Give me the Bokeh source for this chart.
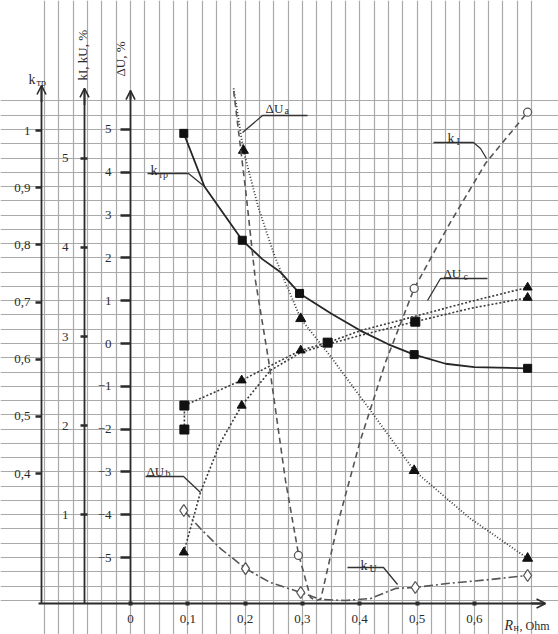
from bokeh.plotting import figure
from bokeh.models import (Range1d, LinearAxis, FixedTicker, SingleIntervalTicker, Grid,
                          Arrow, OpenHead, Label, ColumnDataSource, CustomJSTickFormatter)
from bokeh.embed import file_html
from bokeh.resources import INLINE

FONT = "Liberation Serif"
INK = "#2b2b2b"
CURVE = "#3a3a3a"

# ---------------- data: load resistance R_н, Ohm ----------------
# transformer coefficient k_тр (left-most scale)
ktp_r = [0.093, 0.129, 0.195, 0.23, 0.262, 0.295, 0.35, 0.401, 0.45, 0.495, 0.55, 0.60, 0.693]
ktp_v = [0.995, 0.902, 0.808, 0.775, 0.752, 0.715, 0.680, 0.650, 0.626, 0.608, 0.592, 0.586, 0.584]
ktp_pts_r = [0.093, 0.195, 0.295, 0.495, 0.693]
ktp_pts_v = [0.995, 0.808, 0.715, 0.608, 0.584]

# voltage deviation ΔUa, %
dua_r = [0.180, 0.197, 0.223, 0.250, 0.265, 0.297, 0.349, 0.419, 0.495, 0.593, 0.693]
dua_v = [5.96, 4.51, 3.18, 2.10, 1.59, 0.58, -0.30, -1.57, -2.97, -4.09, -5.02]
dua_pts_r = [0.197, 0.297, 0.495, 0.693]
dua_pts_v = [4.51, 0.58, -2.97, -5.02]

# voltage deviation ΔUb, %
dub_r = [0.093, 0.122, 0.157, 0.194, 0.244, 0.297, 0.344, 0.401, 0.497, 0.593, 0.693]
dub_v = [-4.88, -3.48, -2.31, -1.45, -0.63, -0.21, -0.02, 0.19, 0.51, 0.82, 1.07]
dub_pts_r = [0.093, 0.194, 0.497, 0.693]
dub_pts_v = [-4.88, -1.45, 0.51, 1.07]
dub_pts_m = ["triangle", "triangle", "square", "triangle"]

# voltage deviation ΔUc, %
duc_r = [0.094, 0.094, 0.194, 0.297, 0.344, 0.401, 0.495, 0.593, 0.693]
duc_v = [-2.01, -1.45, -0.86, -0.16, 0.02, 0.30, 0.63, 0.98, 1.31]
duc_pts_r = [0.094, 0.094, 0.194, 0.297, 0.344, 0.693]
duc_pts_v = [-2.01, -1.45, -0.86, -0.16, 0.02, 1.31]
duc_pts_m = ["square", "square", "triangle", "triangle", "square", "triangle"]

# current unbalance factor k_I, %
ki_r = [0.180, 0.201, 0.218, 0.241, 0.2705, 0.293, 0.314, 0.323, 0.332, 0.363, 0.401, 0.445, 0.495, 0.558, 0.62, 0.693]
ki_v = [5.76, 4.64, 3.63, 2.73, 1.38, 0.56, 0.07, 0.03, 0.05, 0.93, 1.83, 2.71, 3.54, 4.28, 4.95, 5.52]
ki_pts_r = [0.293, 0.495, 0.693]
ki_pts_v = [0.54, 3.54, 5.52]

# voltage unbalance factor k_U, %
ku_r = [0.093, 0.122, 0.157, 0.2007, 0.244, 0.297, 0.332, 0.375, 0.419, 0.4625, 0.497, 0.553, 0.628, 0.693]
ku_v = [1.045, 0.843, 0.618, 0.393, 0.236, 0.124, 0.045, 0.034, 0.056, 0.17, 0.180, 0.225, 0.270, 0.315]
ku_pts_r = [0.093, 0.2007, 0.297, 0.497, 0.693]
ku_pts_v = [1.045, 0.393, 0.124, 0.180, 0.315]

x_ticks = [0, 0.1, 0.2, 0.3, 0.4, 0.5, 0.6]
du_ticks = [-5, -4, -3, -2, -1, 0, 1, 2, 3, 4, 5]
k_ticks = [1, 2, 3, 4, 5]
ktp_ticks = [0.4, 0.5, 0.6, 0.7, 0.8, 0.9, 1.0]

# ---------------- figure: graph-paper frame filling the page ----------------
p = figure(width=558, height=634,
           x_range=Range1d(-0.2269, 0.7469), y_range=Range1d(-6.799, 8.014),
           x_axis_location=None, y_axis_location=None,
           toolbar_location=None, output_backend="svg", min_border=0,
           outline_line_color=None, background_fill_color="white",
           border_fill_color="white")
p.extra_y_ranges = {"k": Range1d(-0.348, 6.775), "ktp": Range1d(0.1184, 1.2274)}

GRID = "#a9a9a9"
p.add_layout(Grid(dimension=0, ticker=SingleIntervalTicker(interval=0.025),
                  grid_line_color=GRID, grid_line_width=1.2))
p.add_layout(Grid(dimension=1, ticker=SingleIntervalTicker(interval=1 / 3),
                  grid_line_color=GRID, grid_line_width=1.2))

comma_fmt = CustomJSTickFormatter(code="""
    if (Math.abs(tick) < 1e-9) return "0";
    if (Math.abs(tick - 1) < 1e-9) return "1";
    return tick.toFixed(1).replace(".", ",");
""")

BASE_DU = -6.075   # baseline of the abscissa on the ΔU scale


def style_axis(ax, size="13px"):
    ax.axis_line_color = INK
    ax.axis_line_width = 1.8
    ax.major_tick_line_color = INK
    ax.minor_tick_line_color = None
    ax.major_label_text_font = FONT
    ax.major_label_text_font_size = size
    ax.major_label_text_color = INK


# abscissa R_н
ax_x = LinearAxis(fixed_location=BASE_DU, bounds=(-0.161, 0.72),
                  ticker=FixedTicker(ticks=x_ticks), formatter=comma_fmt)
style_axis(ax_x)
ax_x.major_tick_in = 2
ax_x.major_tick_out = 2
ax_x.major_tick_line_width = 4
ax_x.major_label_standoff = 9
p.add_layout(ax_x, "below")

# ΔU, % scale
ax_du = LinearAxis(fixed_location=0.0, bounds=(BASE_DU, 5.91),
                   ticker=FixedTicker(ticks=du_ticks))
style_axis(ax_du)
ax_du.major_tick_in = 0
ax_du.major_tick_out = 10
ax_du.major_tick_line_width = 2.5
ax_du.major_label_standoff = 9
p.add_layout(ax_du, "left")

# k_I, k_U, % scale
ax_k = LinearAxis(fixed_location=-0.0803, y_range_name="k", bounds=(0.0, 5.787),
                  ticker=FixedTicker(ticks=k_ticks))
style_axis(ax_k)
ax_k.major_tick_in = 3
ax_k.major_tick_out = 4
ax_k.major_tick_line_width = 2.5
ax_k.major_label_standoff = 12
p.add_layout(ax_k, "left")

# k_тр scale
ax_ktp = LinearAxis(fixed_location=-0.1553, y_range_name="ktp", bounds=(0.1726, 1.0787),
                    ticker=FixedTicker(ticks=ktp_ticks), formatter=comma_fmt)
style_axis(ax_ktp)
ax_ktp.major_tick_in = 0
ax_ktp.major_tick_out = 6
ax_ktp.major_tick_line_width = 2.5
ax_ktp.major_label_standoff = 5
p.add_layout(ax_ktp, "left")

# arrow heads at the ends of the axes
for xs, ys, xe, ye, rng in [(0.70, BASE_DU, 0.7243, BASE_DU, "default"),
                            (0.0, 5.7, 0.0, 5.91, "default"),
                            (-0.0803, 5.6, -0.0803, 5.787, "k"),
                            (-0.1553, 1.05, -0.1553, 1.0787, "ktp")]:
    p.add_layout(Arrow(end=OpenHead(size=9, line_color=INK, line_width=1.6),
                       x_start=xs, y_start=ys, x_end=xe, y_end=ye, y_range_name=rng,
                       line_color=INK, line_width=1.8))

# ---------------- curves ----------------
p.line(ktp_r, ktp_v, y_range_name="ktp", line_color="#262626", line_width=1.8)
p.scatter(ktp_pts_r, ktp_pts_v, y_range_name="ktp", marker="square", size=8,
          fill_color="#111111", line_color="#111111")

p.line(dua_r, dua_v, line_color=CURVE, line_width=1.8, line_dash="1 2")
p.scatter(dua_pts_r, dua_pts_v, marker="triangle", size=10,
          fill_color="#111111", line_color="#111111")

p.line(dub_r, dub_v, line_color=CURVE, line_width=1.6, line_dash="2 2")
src_b = ColumnDataSource(dict(r=dub_pts_r, v=dub_pts_v, m=dub_pts_m))
p.scatter("r", "v", source=src_b, marker="m", size=9,
          fill_color="#111111", line_color="#111111")

p.line(duc_r, duc_v, line_color=CURVE, line_width=1.6, line_dash="2 2")
src_c = ColumnDataSource(dict(r=duc_pts_r, v=duc_pts_v, m=duc_pts_m))
p.scatter("r", "v", source=src_c, marker="m", size=9,
          fill_color="#111111", line_color="#111111")

p.line(ki_r, ki_v, y_range_name="k", line_color="#555555", line_width=1.6, line_dash="6 4")
p.scatter(ki_pts_r, ki_pts_v, y_range_name="k", marker="circle", size=8,
          fill_color="white", line_color="#555555", line_width=1.3)

p.line(ku_r, ku_v, y_range_name="k", line_color="#555555", line_width=1.6,
       line_dash="9 3 2 3")
p.scatter(ku_pts_r, ku_pts_v, y_range_name="k", marker="diamond", size=12,
          fill_color="white", line_color="#555555", line_width=1.3)


# ---------------- captions ----------------
def note(x, y, text, size=14, **kw):
    p.add_layout(Label(x=x, y=y, text=text, text_font=FONT, text_font_size=f"{size}px",
                       text_color=INK, text_baseline="alphabetic", **kw))


def leader(xs, ys):
    p.line(xs, ys, line_color="#333333", line_width=1.3)


# k_тр
note(0.0349, 4.042, "k")
note(0.0489, 3.949, "тр", size=10)
leader([0.0297, 0.1012, 0.1291], [3.972, 3.972, 3.668])

# ΔUa
note(0.2356, 5.491, "ΔU", size=13)
note(0.2688, 5.444, "a", size=10)
leader([0.3089, 0.2304, 0.1955], [5.327, 5.327, 4.93])

# ΔUb
note(0.0279, -2.991, "ΔU", size=13)
note(0.0611, -3.037, "b", size=10)
leader([0.0262, 0.0925, 0.1222], [-3.107, -3.107, -3.481])

# ΔUc
note(0.5462, 1.636, "ΔU", size=13)
note(0.5812, 1.565, "c", size=10)
leader([0.623, 0.541, 0.5183], [1.519, 1.519, 1.005])

# k_I
note(0.5532, 4.79, "k")
note(0.569, 4.72, "I", size=10)
leader([0.5288, 0.5986, 0.6108, 0.6213], [4.696, 4.696, 4.556, 4.322])

# k_U
note(0.4014, -5.187, "k")
note(0.4171, -5.257, "U", size=10)
leader([0.3787, 0.4415, 0.466], [-5.234, -5.234, -5.631])

# axis titles
note(-0.178, 6.168, "k")
note(-0.164, 6.098, "тр", size=10)
note(-0.0838, 6.145, "kI, kU, %", size=13, angle=1.5708, text_align="left")
note(-0.0175, 6.238, "ΔU, %", size=13, angle=1.5708, text_align="left")
note(0.6527, -6.589, "R", size=14, text_font_style="italic")
note(0.6684, -6.636, "н", size=10)
note(0.6789, -6.589, ", Ohm", size=12)

open("out.html", "w").write(file_html(p, INLINE))
